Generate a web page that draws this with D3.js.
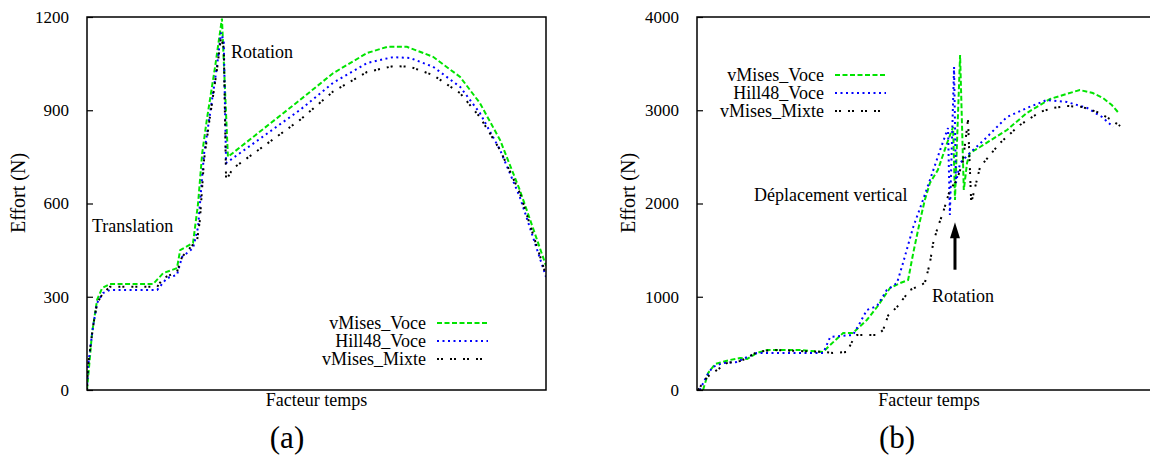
<!DOCTYPE html>
<html><head><meta charset="utf-8">
<script src="https://cdn.jsdelivr.net/npm/d3@7"></script>
<style>
html,body{margin:0;padding:0;background:#fff;}
svg text{font-family:"Liberation Serif","Times New Roman",serif;fill:#000;}
</style></head>
<body>
<svg id="chart" width="1150" height="457"></svg>
<script>
// ---------- DATA ----------
const seriesNames = ["vMises_Voce", "Hill48_Voce", "vMises_Mixte"];
const yTicksA = [0, 300, 600, 900, 1200];
const yTicksB = [0, 1000, 2000, 3000, 4000];

// Panel (a)
const tA_voce  = [0,.011,.022,.033,.050,.144,.166,.196,.203,.231,.242,.251,.261,.279,.294,.307,.464,.536,.610,.654,.697,.754,.813,.856,.900,.943,1.0];
const fA_voce  = [0,183,290,328,341,341,376,392,450,473,600,762,869,1039,1195,750,933,1019,1084,1104,1104,1072,1007,923,804,643,400];
const tA_hill  = [0,.002,.013,.022,.035,.050,.153,.174,.196,.207,.231,.242,.255,.266,.283,.292,.298,.303,.464,.536,.610,.667,.704,.754,.813,.856,.900,.943,1.0];
const fA_hill  = [0,74,203,280,312,322,322,360,370,428,456,524,760,869,1039,1150,1120,730,901,988,1052,1071,1068,1040,975,891,772,621,364];
const tA_mixte = [0,.002,.013,.022,.035,.050,.153,.166,.196,.207,.240,.246,.255,.266,.283,.292,.298,.303,.318,.464,.536,.610,.667,.704,.754,.813,.856,.900,.943,1.0];
const fA_mixte = [0,74,203,280,312,332,332,360,380,428,483,547,740,860,1030,1135,1100,675,713,869,960,1023,1042,1040,1013,955,878,772,634,370];

// Panel (b)
const tB_voce  = [.013,.024,.039,.071,.093,.108,.129,.151,.222,.272,.287,.315,.336,.366,.388,.416,.438,.455,.466,.481,.491,.502,.519,.539,.552,.556,.567,.575,.582,.588,.610,.668,.711,.761,.825,.853,.875,.894,.907];
const fB_voce  = [0,182,279,322,343,333,397,429,429,408,483,611,611,751,890,1094,1147,1180,1469,1823,2037,2220,2359,2649,2820,2037,3592,2145,2434,2541,2606,2788,2971,3121,3217,3185,3131,3056,2981];
const tB_hill  = [.006,.022,.034,.056,.086,.099,.129,.151,.222,.272,.287,.308,.336,.351,.366,.388,.409,.431,.444,.466,.487,.502,.524,.541,.545,.554,.558,.567,.588,.625,.668,.711,.754,.797,.841,.873,.897];
const fB_hill  = [0,161,247,290,300,333,397,397,397,397,568,579,590,718,858,901,1072,1147,1362,1748,2037,2252,2574,2810,1877,3464,2220,2434,2541,2713,2928,3024,3110,3089,3024,2928,2820];
const tB_mixte = [.002,.022,.043,.065,.093,.108,.129,.164,.272,.293,.323,.336,.345,.388,.401,.412,.431,.459,.491,.502,.509,.519,.530,.545,.560,.573,.584,.591,.610,.653,.696,.739,.767,.797,.830,.862,.886,.912];
const fB_mixte = [0,140,214,290,311,343,408,429,408,397,408,536,590,590,643,800,890,1072,1147,1362,1576,1748,1898,2145,2252,2450,2895,2005,2391,2649,2842,2981,3024,3046,3035,2981,2917,2831];

// ---------- STYLE ----------
const styles = [
  {color:"#00e400", dash:"5,2.5", width:2},
  {color:"#0000ff", dash:"2,3.5", width:2},
  {color:"#000000", dash:"2,2,2,7", width:2}
];

const svg = d3.select("#chart");
svg.append("rect").attr("width",1150).attr("height",457).attr("fill","#fff");

function panel(opts){
  const g = svg.append("g");
  const x = d3.scaleLinear().domain([0,1]).range([opts.x0, opts.x1]);
  const y = d3.scaleLinear().domain([0, opts.ymax]).range([390, 17]);
  const clipId = "clip"+opts.id;
  svg.append("clipPath").attr("id",clipId).append("rect")
     .attr("x",opts.x0).attr("y",17).attr("width",opts.x1-opts.x0).attr("height",373);

  // y axis with inward ticks
  const ax = d3.axisLeft(y).tickValues(opts.ticks).tickSize(-6).tickPadding(18).tickFormat(d3.format("d"));
  const ag = g.append("g").attr("transform",`translate(${opts.x0},0)`).call(ax);
  ag.select(".domain").remove();
  ag.selectAll(".tick line").attr("stroke","#000").attr("stroke-width",1.2);
  ag.selectAll(".tick text").attr("font-size",17).attr("font-family","Liberation Serif").attr("fill","#000");

  // lines
  const line = d3.line().x(d=>x(d[0])).y(d=>y(d[1]));
  opts.series.forEach((s,i)=>{
    const pts = s.t.map((t,k)=>[t, s.f[k]]);
    g.append("path").datum(pts).attr("d",line).attr("fill","none")
      .attr("clip-path",`url(#${clipId})`)
      .attr("stroke",styles[i].color).attr("stroke-width",styles[i].width)
      .attr("stroke-dasharray",styles[i].dash);
  });

  // frame
  g.append("rect").attr("x",opts.x0).attr("y",17).attr("width",opts.x1-opts.x0).attr("height",373)
    .attr("fill","none").attr("stroke","#000").attr("stroke-width",1.5);

  // axis labels
  g.append("text").attr("x",(opts.x0+opts.x1)/2).attr("y",406).attr("text-anchor","middle")
    .attr("font-size",18).text("Facteur temps");
  g.append("text").attr("transform",`translate(${opts.ylabX},193) rotate(-90)`).attr("text-anchor","middle")
    .attr("font-size",20).text("Effort (N)");
  g.append("text").attr("x",opts.subX).attr("y",448).attr("text-anchor","middle")
    .attr("font-size",31).text(opts.sub);

  // legend
  seriesNames.forEach((n,i)=>{
    const ly = opts.legY + i*18;
    g.append("text").attr("x",opts.legX).attr("y",ly).attr("dy","0.35em").attr("text-anchor","end")
      .attr("font-size",18).text(n);
    g.append("line").attr("x1",opts.legX+11).attr("x2",opts.legX+62).attr("y1",ly).attr("y2",ly)
      .attr("stroke",styles[i].color).attr("stroke-width",styles[i].width).attr("stroke-dasharray",styles[i].dash);
  });
  return {g,x,y};
}

const A = panel({id:"a", x0:87, x1:546, ymax:1200, ticks:yTicksA,
  series:[{t:tA_voce,f:fA_voce},{t:tA_hill,f:fA_hill},{t:tA_mixte,f:fA_mixte}],
  ylabX:25, subX:287, sub:"(a)", legX:426, legY:323});
A.g.append("text").attr("x",92).attr("y",232).attr("font-size",18).text("Translation");
A.g.append("text").attr("x",231).attr("y",58).attr("font-size",18).text("Rotation");

const B = panel({id:"b", x0:697, x1:1161, ymax:4000, ticks:yTicksB,
  series:[{t:tB_voce,f:fB_voce},{t:tB_hill,f:fB_hill},{t:tB_mixte,f:fB_mixte}],
  ylabX:635, subX:897, sub:"(b)", legX:824, legY:75});
B.g.append("text").attr("x",754).attr("y",201).attr("font-size",18).text("Déplacement vertical");
B.g.append("text").attr("x",932).attr("y",302).attr("font-size",18).text("Rotation");

// arrow
const ax0 = B.x(0.556), yBase = B.y(1290), yTip = B.y(1800);
B.g.append("line").attr("x1",ax0).attr("x2",ax0).attr("y1",yBase).attr("y2",yTip+14)
  .attr("stroke","#000").attr("stroke-width",3);
B.g.append("path").attr("d",`M${ax0},${yTip} L${ax0-5},${yTip+16} L${ax0+5},${yTip+16} Z`).attr("fill","#000");
</script>
</body></html>
